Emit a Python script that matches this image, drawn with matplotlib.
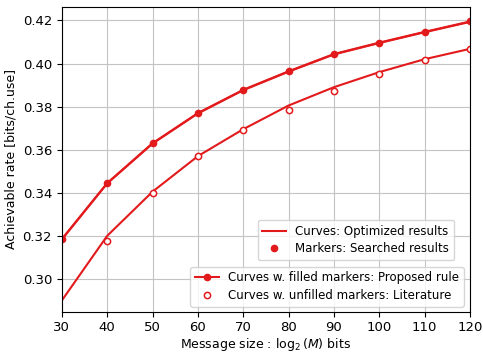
import matplotlib.pyplot as plt
from matplotlib.lines import Line2D

# message sizes (bits)
bits = [30, 40, 50, 60, 70, 80, 90, 100, 110, 120]

# proposed rule: optimized curve and searched points
proposed_opt = [0.3183, 0.3443, 0.3628, 0.3768, 0.3876, 0.3962, 0.4042, 0.4095, 0.4145, 0.4193]
proposed_search = [0.3185, 0.3445, 0.3630, 0.3770, 0.3878, 0.3964, 0.4044, 0.4097, 0.4147, 0.4195]

# literature: optimized curve and searched points
lit_opt = [0.2900, 0.3200, 0.3405, 0.3570, 0.3695, 0.3805, 0.3890, 0.3960, 0.4020, 0.4068]
lit_bits = [40, 50, 60, 70, 80, 90, 100, 110, 120]
lit_search = [0.3175, 0.3398, 0.3570, 0.3692, 0.3783, 0.3873, 0.3953, 0.4018, 0.4066]

red = '#e31a1c'
ms = 4.5
plt.rcParams['font.size'] = 9

fig, ax = plt.subplots(figsize=(4.83, 3.53), dpi=100)

ax.plot(bits, proposed_opt, color=red, lw=1.5)
ax.plot(bits, proposed_search, color=red, lw=1.5, marker='o', ms=ms)
ax.plot(bits, lit_opt, color=red, lw=1.5)
ax.plot(lit_bits, lit_search, ls='none', marker='o', ms=ms, mfc='white', mec=red, mew=1.1)

ax.set_xlim(30, 120)
ax.set_ylim(0.2848, 0.4262)
ax.set_xticks(bits)
ax.set_yticks([0.30, 0.32, 0.34, 0.36, 0.38, 0.40, 0.42])
ax.tick_params(labelsize=9.5)
ax.grid(True, color='#c4c4c4', lw=0.8)
ax.set_xlabel('Message size : $\\log_2(M)$ bits', labelpad=1)
ax.set_ylabel('Achievable rate [bits/ch.use]', labelpad=4)

# legend for what curves and markers mean
h1 = [Line2D([], [], color=red, lw=1.5),
      Line2D([], [], color=red, ls='none', marker='o', ms=ms)]
leg1 = ax.legend(h1, ['Curves: Optimized results', 'Markers: Searched results'],
                 loc='lower right', bbox_to_anchor=(0.961, 0.169), borderaxespad=0,
                 fontsize=8.5, handlelength=2.0, borderpad=0.4, labelspacing=0.4)
ax.add_artist(leg1)

# legend for the two schemes
h2 = [Line2D([], [], color=red, lw=1.5, marker='o', ms=ms),
      Line2D([], [], color=red, ls='none', marker='o', ms=ms, mfc='white', mew=1.1)]
ax.legend(h2, ['Curves w. filled markers: Proposed rule', 'Curves w. unfilled markers: Literature'],
          loc='lower right', bbox_to_anchor=(0.985, 0.016), borderaxespad=0,
          fontsize=8.5, handlelength=2.0, borderpad=0.4, labelspacing=0.4)

fig.subplots_adjust(left=0.128, right=0.973, top=0.98, bottom=0.117)
fig.savefig('out.png', dpi=100)
